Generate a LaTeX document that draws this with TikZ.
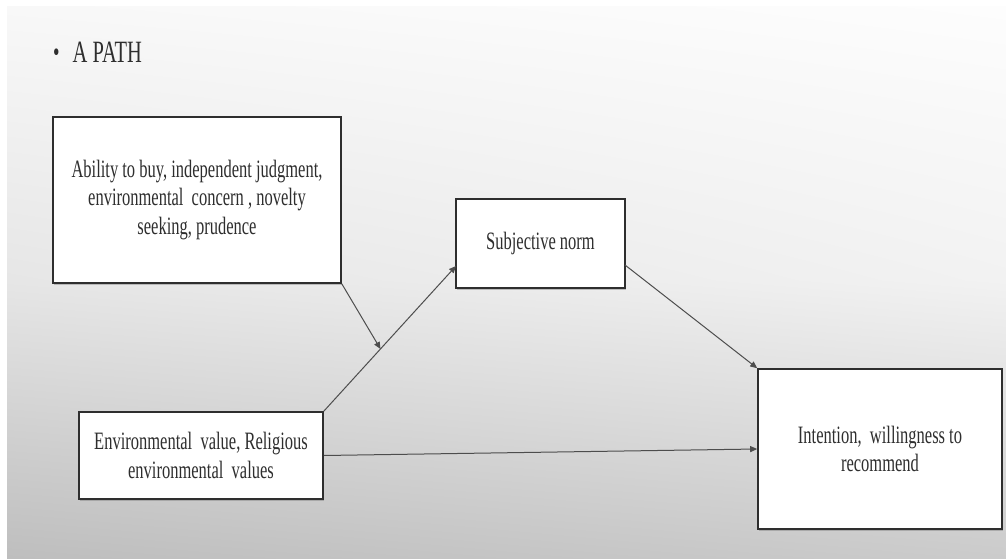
\documentclass[tikz,border=0pt]{standalone}
\usepackage{fontspec}
\setmainfont[FakeStretch=0.66]{Liberation Serif}
\usetikzlibrary{arrows.meta,shadows,shadings}
\definecolor{ink}{HTML}{2E2E2E}
\definecolor{bgA}{HTML}{F8F8F8}
\definecolor{bgB}{HTML}{FDFDFD}
\definecolor{bgC}{HTML}{E6E6E6}
\definecolor{bgD}{HTML}{F2F2F2}
\definecolor{bgE}{HTML}{BEBEBE}
\definecolor{bgF}{HTML}{CBCBCB}
\tikzset{
  box/.style={draw=ink, line width=1.6pt, fill=white, align=center, text=ink,
    inner sep=0pt, font=\fontsize{25}{28.7}\selectfont,
    drop shadow={shadow xshift=0.8pt, shadow yshift=-1.6pt, opacity=0.45}},
  conn/.style={draw=ink!85, line width=1pt, -{Triangle[length=7pt,width=6pt]}}
}
\begin{document}
\begin{tikzpicture}[x=1pt,y=-1pt]
\useasboundingbox (0,0) rectangle (1006,559);
\fill[white] (0,0) rectangle (1006,559);
\shade[upper left=bgA, upper right=bgB, lower left=bgC, lower right=bgD] (7,7) rectangle (1006,280);
\shade[upper left=bgC, upper right=bgD, lower left=bgE, lower right=bgF] (7,280) rectangle (1006,558);

\node[anchor=base west, text=ink, font=\fontsize{31}{36}\selectfont, inner sep=0pt] (title) at (53,63) {\raisebox{1.5pt}{\fontsize{28}{28}\selectfont\textbullet}\hspace{13pt}A PATH};

\node[box, minimum width=288pt, minimum height=166pt] (abil) at (197,200)
  {Ability to buy, independent judgment,\\environmental\ \ concern , novelty\\seeking, prudence};
\node[box, minimum width=169pt, minimum height=89pt] (sn) at (540.5,243.5) {Subjective norm};
\node[box, minimum width=244pt, minimum height=87pt] (env) at (201,455.5)
  {Environmental\ \ value, Religious\\environmental\ \ values};
\node[box, minimum width=244pt, minimum height=160pt] (int) at (880,449)
  {Intention,\ \ willingness to\\recommend};

\coordinate (snin) at (456,266);
\coordinate (snout) at (625,265);
\coordinate (mid) at (380.5,349);

\draw[conn] (env.north east) -- (snin);
\draw[conn] (abil.south east) -- (mid);
\draw[conn] (snout) -- (int.north west);
\draw[conn] (env.east) -- (int.west);
\end{tikzpicture}
\end{document}
